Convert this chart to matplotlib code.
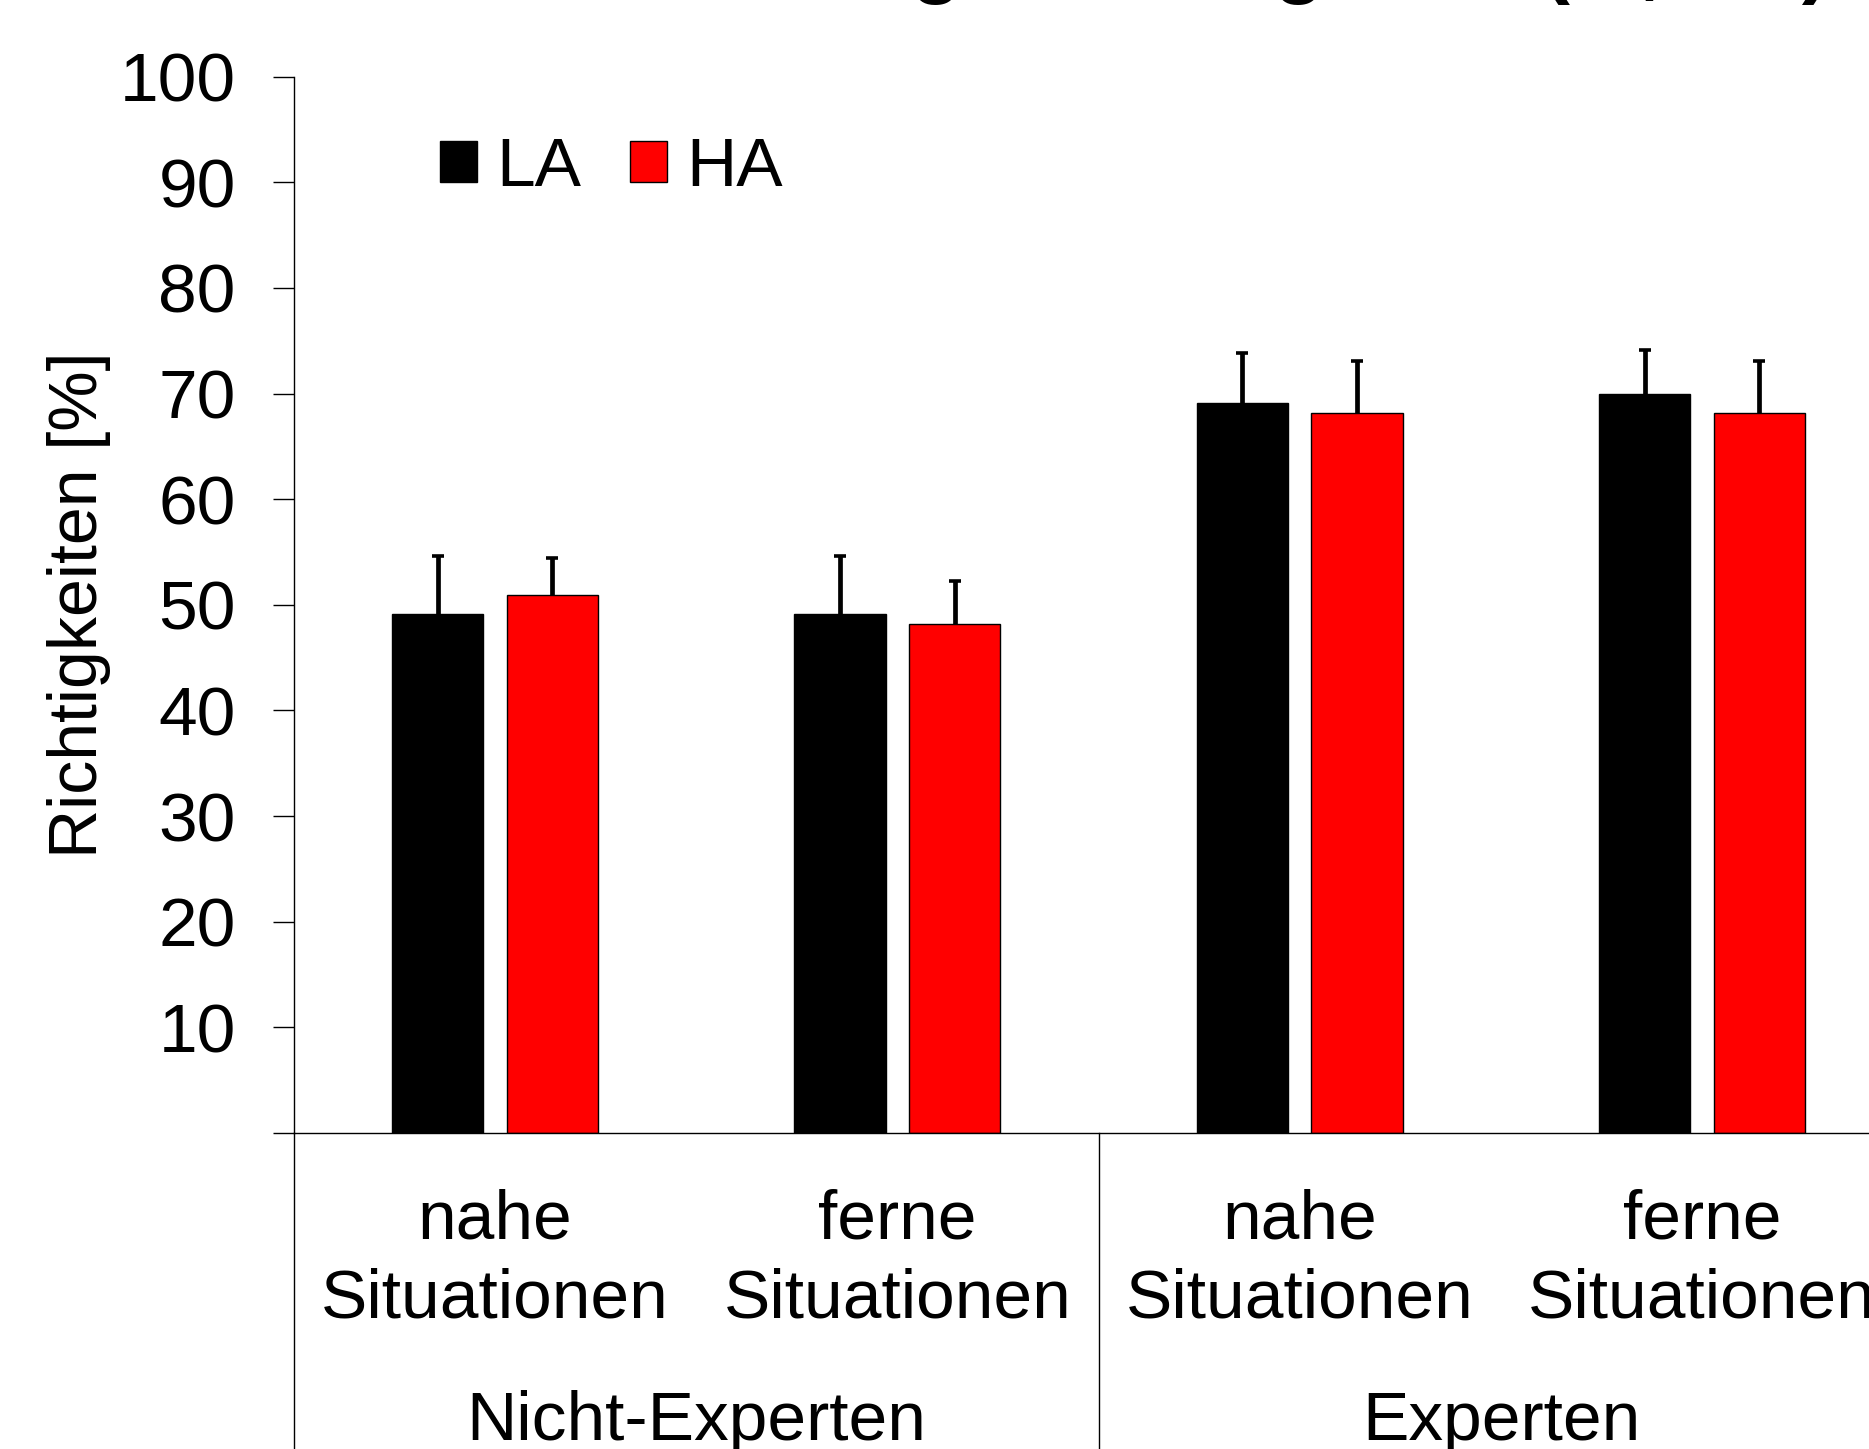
import numpy as np
import matplotlib
matplotlib.use('Agg')
import matplotlib.pyplot as plt

plt.rcParams['font.family'] = ['Liberation Sans', 'DejaVu Sans']

situations = ['nahe\nSituationen', 'ferne\nSituationen', 'nahe\nSituationen', 'ferne\nSituationen']
groups = ['Nicht-Experten', 'Experten']
la_values = [49.1, 49.1, 69.1, 70.0]
la_sd = [5.5, 5.5, 4.7, 4.1]
ha_values = [50.9, 48.2, 68.2, 68.2]
ha_sd = [3.5, 4.1, 4.9, 4.9]
yticks = [0, 10, 20, 30, 40, 50, 60, 70, 80, 90, 100]
ytick_labels = [''] + [str(v) for v in yticks[1:]]

fig = plt.figure(figsize=(18.69, 14.49), dpi=100)
ax = fig.add_axes([0.1573, 0.2181, 0.861, 0.729])

x = np.arange(len(situations))
w = 0.227
off = 0.1425

b1 = ax.bar(x - off, la_values, w, color='black', edgecolor='black', linewidth=1.0,
            label='LA', zorder=2)
b2 = ax.bar(x + off, ha_values, w, color='#ff0000', edgecolor='black', linewidth=1.0,
            label='HA', zorder=2)

# error bars, upper side only
for xs, vals, sd in [(x - off, la_values, la_sd), (x + off, ha_values, ha_sd)]:
    eb = ax.errorbar(xs, vals, yerr=[np.zeros(len(sd)), sd], fmt='none', ecolor='black',
                     elinewidth=3.4, capsize=4.5, capthick=2.6, zorder=1)
    for cl in eb[1]:
        if np.allclose(cl.get_ydata(), vals):
            cl.set_visible(False)

ax.set_xlim(-0.5, 3.5)
ax.set_ylim(0, 100)
ax.set_yticks(yticks)
ax.set_yticklabels(ytick_labels, fontsize=50)
ax.tick_params(axis='y', direction='out', length=15, width=1.0, pad=27, color='black')
ax.set_xticks([])
for s in ['top', 'right']:
    ax.spines[s].set_visible(False)
for s in ['left', 'bottom']:
    ax.spines[s].set_linewidth(1.0)
    ax.spines[s].set_color('black')
    ax.spines[s].set_zorder(3)

ax.set_ylabel('Richtigkeiten [%]', fontsize=49)
ax.yaxis.set_label_coords(-0.1137, 0.5)

# vertical lines below the axis (left border and group separator)
for xv in [-0.5, 1.5]:
    ax.plot([xv, xv], [0, -40], color='black', lw=1.0, clip_on=False)

tr = ax.get_xaxis_transform()
for xi, lab in zip(x, situations):
    ax.text(xi, -0.053, lab, transform=tr, ha='center', va='top', fontsize=50,
            linespacing=1.3)
for gx, g in zip([0.5, 2.5], groups):
    ax.text(gx, -0.2434, g, transform=tr, ha='center', va='top', fontsize=50)

ax.legend(handles=[b1, b2], loc='center left', bbox_to_anchor=(0.0907, 0.9135),
          ncol=2, frameon=False, fontsize=50, handlelength=0.53, handleheight=0.53,
          handletextpad=0.28, columnspacing=0.7, borderpad=0, borderaxespad=0)

# title, cut off at the top of the picture
fig.text(1830 / 1869, 1.0 + 12 / 1449, 'Einschätzung der Aufgaben (M, SD)', ha='right',
         va='baseline', fontsize=60, fontweight='bold')

fig.savefig('out.png', dpi=100)
